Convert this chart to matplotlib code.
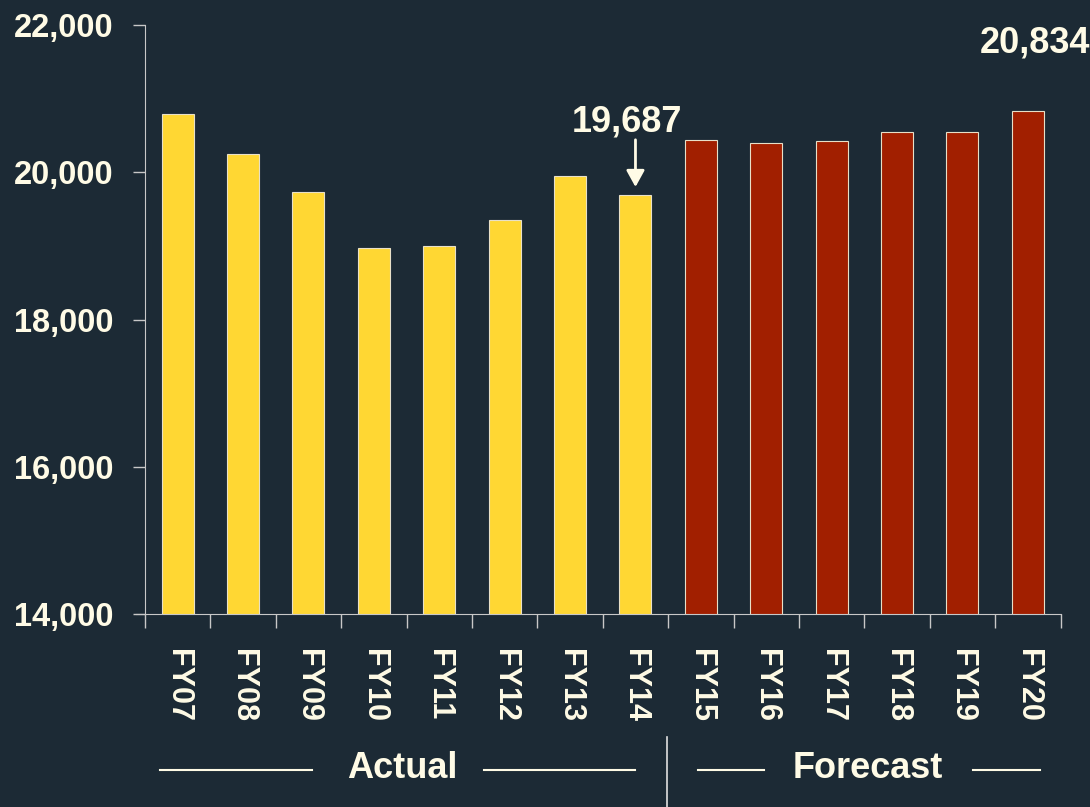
import matplotlib.pyplot as plt
from matplotlib.lines import Line2D

BG = "#1c2a35"
CREAM = "#fffbe6"
YELLOW = "#ffd733"
RED = "#a11f00"

years = ["FY07", "FY08", "FY09", "FY10", "FY11", "FY12", "FY13",
         "FY14", "FY15", "FY16", "FY17", "FY18", "FY19", "FY20"]
actual = [20793, 20254, 19732, 18966, 19000, 19350, 19945, 19687]
forecast = [20445, 20392, 20426, 20553, 20553, 20834]

plt.rcParams["font.family"] = ["Liberation Sans", "DejaVu Sans"]
plt.rcParams["font.weight"] = "bold"

fig = plt.figure(figsize=(10.9, 8.07), dpi=100, facecolor=BG)
ax = fig.add_axes([0.133, 0.239, 0.840, 0.730], facecolor=BG)

values = actual + forecast
colors = [YELLOW] * len(actual) + [RED] * len(forecast)
x = list(range(len(years)))
ax.bar(x, values, width=0.49, color=colors, edgecolor="#e8e0c8",
       linewidth=0.8, zorder=2)

ax.set_ylim(14000, 22000)
ax.set_xlim(-0.5, len(years) - 0.5)
ax.set_yticks([14000, 16000, 18000, 20000, 22000])
ax.set_yticklabels([f"{v:,}" for v in ax.get_yticks()], fontsize=23.5,
                   fontweight="bold", color=CREAM)

# category labels sit between the boundary ticks
ax.set_xticks([i - 0.5 for i in range(len(years) + 1)])
ax.set_xticklabels([])
ax.set_xticks(x, minor=True)
ax.set_xticklabels(years, minor=True, rotation=270, fontsize=22,
                   fontweight="bold", color=CREAM, va="top", ha="center")
ax.tick_params(axis="x", which="minor", length=0, pad=25)
ax.tick_params(axis="x", which="major", length=10, color="#c8c8c8",
               width=1)
ax.tick_params(axis="y", length=9, color="#c8c8c8", width=1, pad=14)

for side in ("top", "right"):
    ax.spines[side].set_visible(False)
ax.spines["left"].set_color("#c8c8c8")
ax.spines["bottom"].set_color("#c8c8c8")
ax.spines["bottom"].set_bounds(-0.64, len(years) - 0.5)

# callouts: last actual year and last forecast year
last_actual = actual[-1]
ax.annotate("", xy=(len(actual) - 1, last_actual), xycoords="data",
            xytext=(0, 40), textcoords="offset points",
            arrowprops=dict(arrowstyle="-|>,head_width=0.55,head_length=1.0",
                            color=CREAM, lw=2, shrinkA=0, shrinkB=6))
ax.annotate(f"{last_actual:,}", xy=(len(actual) - 1, last_actual),
            xytext=(-6, 40), textcoords="offset points", ha="center",
            va="bottom", fontsize=26, fontweight="bold", color=CREAM)
last_fc = forecast[-1]
ax.annotate(f"{last_fc:,}", xy=(len(years) - 1, last_fc),
            xytext=(5, 36), textcoords="offset points", ha="center",
            va="bottom", fontsize=26, fontweight="bold", color=CREAM,
            annotation_clip=False)

# Actual / Forecast brackets under the axis
fig.text(0.369, 0.048, "Actual", ha="center", va="center", fontsize=26,
         fontweight="bold", color=CREAM)
fig.text(0.796, 0.048, "Forecast", ha="center", va="center", fontsize=26,
         fontweight="bold", color=CREAM)
for x0, x1 in [(0.147, 0.286), (0.444, 0.583), (0.640, 0.701),
               (0.893, 0.954)]:
    fig.add_artist(Line2D([x0, x1], [0.046, 0.046], color=CREAM, lw=1.5,
                          transform=fig.transFigure))
fig.add_artist(Line2D([0.612, 0.612], [0.0, 0.087], color="#e0e0e0",
                      lw=1.2, transform=fig.transFigure))

fig.savefig("out.png", dpi=100, facecolor=BG)
